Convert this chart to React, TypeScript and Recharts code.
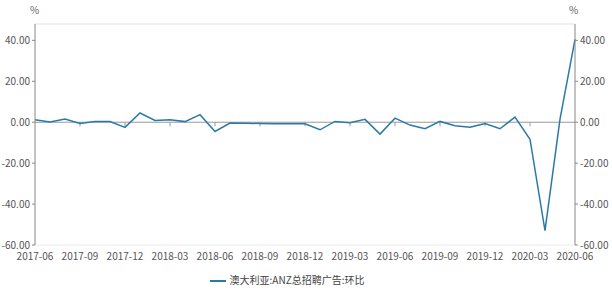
import React from 'react';
import { LineChart, Line, XAxis, YAxis, CartesianGrid, ReferenceLine, Legend } from 'recharts';

const dates = [
  '2017-06','2017-07','2017-08','2017-09','2017-10','2017-11','2017-12',
  '2018-01','2018-02','2018-03','2018-04','2018-05','2018-06','2018-07','2018-08','2018-09','2018-10','2018-11','2018-12',
  '2019-01','2019-02','2019-03','2019-04','2019-05','2019-06','2019-07','2019-08','2019-09','2019-10','2019-11','2019-12',
  '2020-01','2020-02','2020-03','2020-04','2020-05','2020-06',
];
const values = [
  1.2, 0.1, 1.6, -0.6, 0.3, 0.3, -2.5,
  4.5, 0.9, 1.2, 0.3, 3.7, -4.5, -0.4, -0.5, -0.6, -0.7, -0.7, -0.8,
  -3.7, 0.4, -0.2, 1.4, -5.8, 2.0, -1.4, -3.2, 0.4, -1.7, -2.5, -0.6,
  -3.2, 2.5, -8.3, -53, 1.5, 40.5,
];
const yTicks = [-60, -40, -20, 0, 20, 40];
const yDomain = [-60, 48];
const seriesName = '澳大利亚:ANZ总招聘广告:环比';

const data = dates.map((d, i) => ({ date: d, v: values[i] }));
const tickDates = dates.filter((_, i) => i % 3 === 0 && i > 0 && i < dates.length - 1);

const font = '"Noto Sans CJK SC", "Noto Sans", sans-serif';
const fmt = (v: number) => v.toFixed(2);

export default function App() {
  return (
    <div style={{ position: 'absolute', left: 0, top: 0, width: 612, height: 291, background: '#fff', fontFamily: font }}>
      <div style={{ position: 'absolute', left: 30, top: 2, fontSize: 10, color: '#666' }}>%</div>
      <div style={{ position: 'absolute', left: 569, top: 2, fontSize: 10, color: '#666' }}>%</div>
      <LineChart width={612} height={291} data={data} margin={{ top: 24, right: 2, bottom: 0, left: 0 }}>
        <CartesianGrid vertical={false} stroke="#ebebeb" />
        <ReferenceLine yAxisId="left" y={48} stroke="#ebebeb" />
        <XAxis
          dataKey="date"
          interval={2}
          axisLine={false}
          tickLine={false}
          height={20}
          tick={{ fontSize: 10, fill: '#555', fontFamily: font }}
          tickMargin={2}
        />
        <YAxis
          yAxisId="left"
          domain={yDomain}
          ticks={yTicks}
          tickFormatter={fmt}
          width={35}
          axisLine={{ stroke: '#888' }}
          tickLine={{ stroke: '#888' }}
          tickSize={3}
          tick={{ fontSize: 10, fill: '#555', fontFamily: font }}
          allowDataOverflow
        />
        <YAxis
          yAxisId="right"
          orientation="right"
          domain={yDomain}
          ticks={yTicks}
          tickFormatter={fmt}
          width={35}
          axisLine={{ stroke: '#888' }}
          tickLine={{ stroke: '#888' }}
          tickSize={3}
          tick={{ fontSize: 10, fill: '#555', fontFamily: font }}
          allowDataOverflow
        />
        <ReferenceLine yAxisId="left" y={0} stroke="#999" />
        {tickDates.map((d) => (
          <ReferenceLine
            key={d}
            yAxisId="left"
            segment={[{ x: d, y: 0 }, { x: d, y: -2 }]}
            stroke="#999"
          />
        ))}
        <Legend
          verticalAlign="bottom"
          height={26}
          iconType="plainline"
          iconSize={16}
          wrapperStyle={{ fontSize: 10, fontFamily: font, color: '#444', top: 272, left: -14, width: 612 }}
          formatter={(v: string) => <span style={{ color: '#444' }}>{v}</span>}
        />
        <Line
          yAxisId="left"
          dataKey="v"
          name={seriesName}
          stroke="#2a7aa8"
          strokeWidth={1.5}
          dot={false}
          isAnimationActive={false}
        />
      </LineChart>
    </div>
  );
}
